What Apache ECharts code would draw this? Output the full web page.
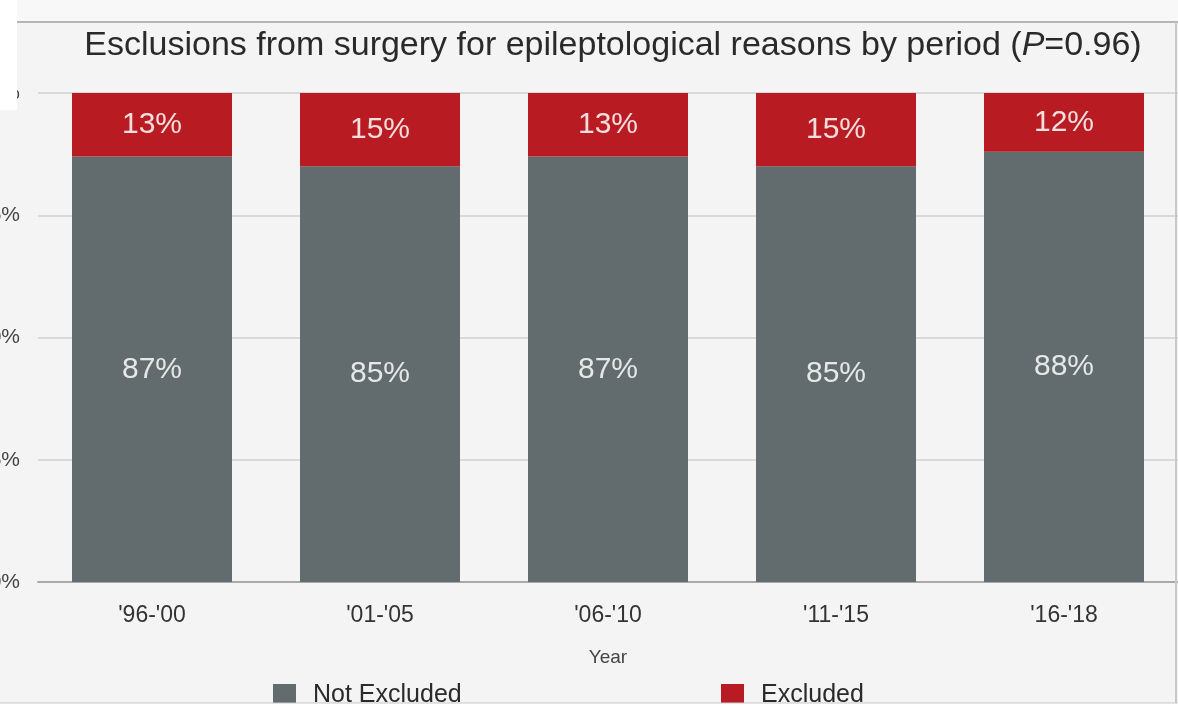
<!DOCTYPE html>
<html>
<head>
<meta charset="utf-8">
<style>
  html, body { margin: 0; padding: 0; background: #ffffff; }
  #chart { width: 1178px; height: 705px; }
</style>
<script src="https://cdn.jsdelivr.net/npm/echarts@6/dist/echarts.min.js"></script>
</head>
<body>
<div id="chart"></div>
<script>
// Periods and stacked shares (percent of candidates)
const periods = ["'96-'00", "'01-'05", "'06-'10", "'11-'15", "'16-'18"];
const notExcluded = [87, 85, 87, 85, 88];
const excluded = [13, 15, 13, 15, 12];
const yTicks = [0, 25, 50, 75, 100];

const FONT = '"Liberation Sans", Arial, Helvetica, sans-serif';
const GREY = '#626b6d';
const RED = '#b81c22';

const chart = echarts.init(document.getElementById('chart'), null, { renderer: 'canvas' });

chart.setOption({
  backgroundColor: '#f4f4f4',
  animation: false,
  title: {
    text: '{n|Esclusions from surgery for epileptological reasons by period (}{i|P}{n|=0.96)}',
    left: 608,
    textAlign: 'center',
    top: 24,
    textStyle: {
      fontWeight: 'normal',
      rich: {
        n: { fontFamily: FONT, fontSize: 34, fontWeight: 'normal', color: '#2a2a2a' },
        i: { fontFamily: FONT, fontSize: 34, fontWeight: 'normal', color: '#2a2a2a', fontStyle: 'italic' }
      }
    }
  },
  legend: [
    {
      data: ['Not Excluded'],
      left: 268, top: 678,
      itemWidth: 23, itemHeight: 23, itemGap: 0,
      icon: 'rect',
      textStyle: { fontFamily: FONT, fontSize: 25, color: '#2a2a2a', padding: [0, 0, 0, 12] }
    },
    {
      data: ['Excluded'],
      left: 716, top: 678,
      itemWidth: 23, itemHeight: 23, itemGap: 0,
      icon: 'rect',
      textStyle: { fontFamily: FONT, fontSize: 25, color: '#2a2a2a', padding: [0, 0, 0, 12] }
    }
  ],
  grid: { left: 38, top: 93, width: 1140, height: 489, containLabel: false, outerBoundsMode: 'none' },
  xAxis: {
    type: 'category',
    data: periods,
    name: 'Year',
    nameLocation: 'middle',
    nameGap: 66,
    nameTextStyle: { fontFamily: FONT, fontSize: 19, color: '#444' },
    axisLine: { lineStyle: { color: '#a9a9a9', width: 2 } },
    axisTick: { show: false },
    axisLabel: { fontFamily: FONT, fontSize: 23, color: '#333', margin: 22 }
  },
  yAxis: {
    type: 'value',
    min: yTicks[0],
    max: yTicks[yTicks.length - 1],
    interval: yTicks[1] - yTicks[0],
    axisLine: { show: false },
    axisTick: { show: false },
    splitLine: { lineStyle: { color: '#d9d9d9', width: 2 } },
    axisLabel: { fontFamily: FONT, fontSize: 21, color: '#444', margin: 18, formatter: '{value}%' }
  },
  series: [
    {
      name: 'Not Excluded',
      type: 'bar',
      stack: 'total',
      data: notExcluded,
      barWidth: 160,
      itemStyle: { color: GREY },
      label: {
        show: true, position: 'inside', formatter: '{c}%',
        fontFamily: FONT, fontSize: 30, color: '#e6e8e8'
      }
    },
    {
      name: 'Excluded',
      type: 'bar',
      stack: 'total',
      data: excluded,
      barWidth: 160,
      itemStyle: { color: RED },
      label: {
        show: true, position: 'inside', formatter: '{c}%',
        fontFamily: FONT, fontSize: 30, color: '#f6dede'
      }
    }
  ],
  graphic: [
    { type: 'rect', z: 100, shape: { x: 0, y: 0, width: 1178, height: 22 }, style: { fill: '#f8f8f8' } },
    { type: 'line', z: 101, shape: { x1: 17, y1: 22, x2: 1178, y2: 22 }, style: { stroke: '#b5b5b5', lineWidth: 2 } },
    { type: 'line', z: 101, shape: { x1: 1176, y1: 22, x2: 1176, y2: 703 }, style: { stroke: '#c8c8c8', lineWidth: 2 } },
    { type: 'rect', z: 100, shape: { x: 0, y: 703, width: 1178, height: 2 }, style: { fill: '#ffffff' } },
    { type: 'line', z: 101, shape: { x1: 0, y1: 703, x2: 1178, y2: 703 }, style: { stroke: '#c8c8c8', lineWidth: 1 } },
    { type: 'rect', z: 102, shape: { x: 0, y: 0, width: 17, height: 110 }, style: { fill: '#ffffff' } }
  ]
});
</script>
</body>
</html>
